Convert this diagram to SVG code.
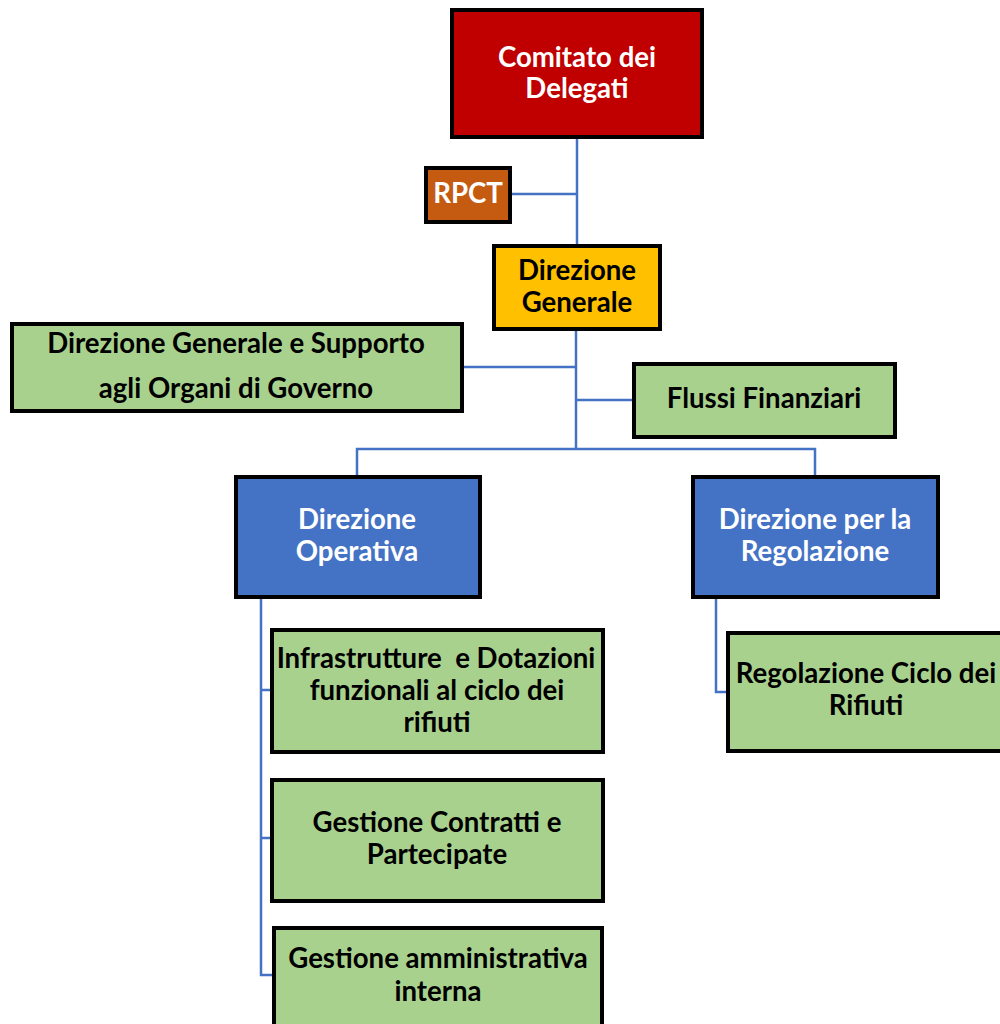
<svg xmlns="http://www.w3.org/2000/svg" width="1000" height="1024" viewBox="0 0 1000 1024">
<style>
.box{stroke:#000;stroke-width:4}
.red{fill:#C00000}
.org{fill:#C55A11}
.yel{fill:#FFC000}
.grn{fill:#A9D18E}
.blu{fill:#4472C4}
text{font-family:Lato,"Liberation Sans",sans-serif;font-weight:bold;font-size:27.6px;text-anchor:middle}
.w{fill:#fff}
.k{fill:#000}
.conn{fill:none;stroke:#4472C4;stroke-width:2.5}
</style>
<rect width="1000" height="1024" fill="#fff"/>
<g id="connectors" class="conn">
<path d="M577 138V245"/>
<path d="M511 194H577"/>
<path d="M576 330V449"/>
<path d="M463 367H576"/>
<path d="M576 400H633"/>
<path d="M357 476V449H815V476"/>
<path d="M261 598V975H273"/>
<path d="M261 690H271"/>
<path d="M261 838H271"/>
<path d="M716 598V692H727"/>
</g>
<g id="comitato"><rect class="box red" x="452" y="10" width="250" height="127"/><text class="w" x="577" y="67">Comitato dei</text><text class="w" x="577" y="98">Delegati</text></g>
<g id="rpct"><rect class="box org" x="426" y="168" width="84" height="54"/><text class="w" x="468" y="203">RPCT</text></g>
<g id="direzione-generale"><rect class="box yel" x="494" y="246" width="166" height="83"/><text class="k" x="577" y="280">Direzione</text><text class="k" x="577" y="312">Generale</text></g>
<g id="supporto"><rect class="box grn" x="12" y="324" width="450" height="87"/><text class="k" x="236" y="353">Direzione Generale e Supporto</text><text class="k" x="236" y="398">agli Organi di Governo</text></g>
<g id="flussi"><rect class="box grn" x="634" y="364" width="261" height="73"/><text class="k" x="764" y="408">Flussi Finanziari</text></g>
<g id="operativa"><rect class="box blu" x="236" y="477" width="244" height="120"/><text class="w" x="357" y="529">Direzione</text><text class="w" x="357" y="561">Operativa</text></g>
<g id="regolazione"><rect class="box blu" x="693" y="477" width="245" height="120"/><text class="w" x="815" y="529">Direzione per la</text><text class="w" x="815" y="561">Regolazione</text></g>
<g id="infrastrutture"><rect class="box grn" x="272" y="630" width="331" height="122"/><text class="k" x="436" y="668" style="white-space:pre">Infrastrutture  e Dotazioni</text><text class="k" x="437" y="700">funzionali al ciclo dei</text><text class="k" x="437" y="732">rifiuti</text></g>
<g id="contratti"><rect class="box grn" x="272" y="780" width="331" height="121"/><text class="k" x="437" y="832">Gestione Contratti e</text><text class="k" x="437" y="864">Partecipate</text></g>
<g id="amministrativa"><rect class="box grn" x="274" y="928" width="328" height="110"/><text class="k" x="438" y="968">Gestione amministrativa</text><text class="k" x="438" y="1001">interna</text></g>
<g id="ciclo-rifiuti"><rect class="box grn" x="728" y="633" width="290" height="118"/><text class="k" x="866" y="683">Regolazione Ciclo dei</text><text class="k" x="866" y="715">Rifiuti</text></g>
</svg>
